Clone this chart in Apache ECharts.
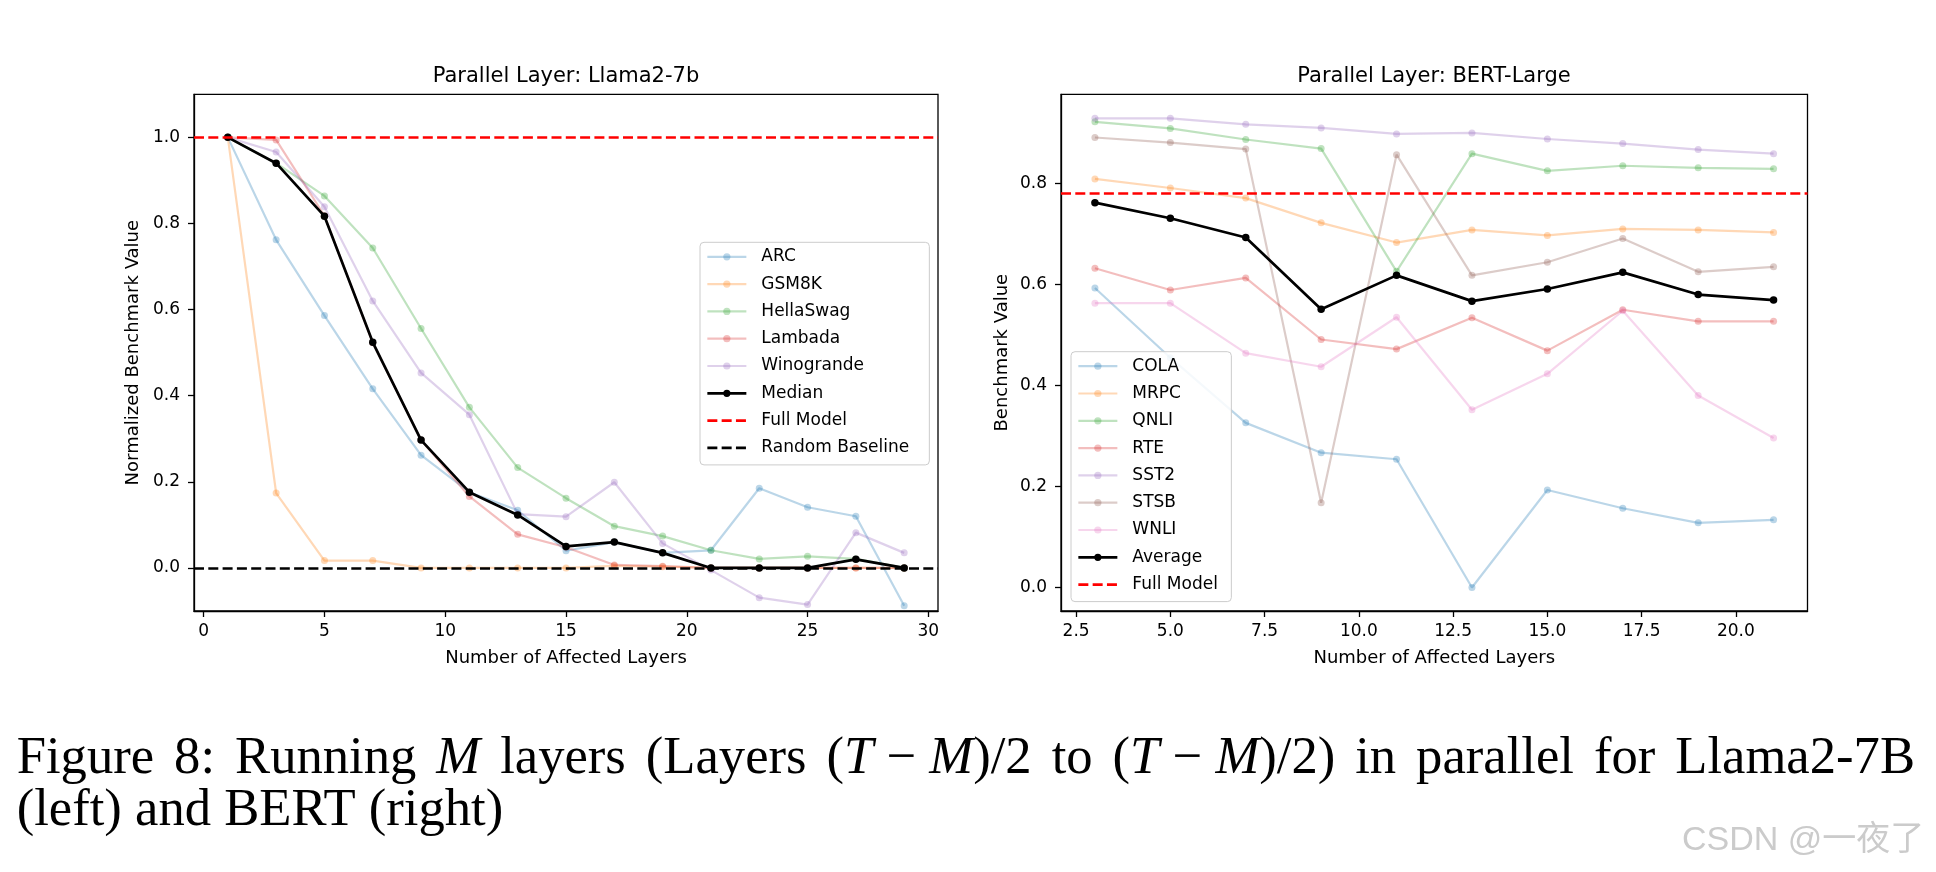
<!DOCTYPE html>
<html>
<head>
<meta charset="utf-8">
<script src="https://cdn.jsdelivr.net/npm/echarts@6/dist/echarts.min.js"></script>
<style>
html,body{margin:0;padding:0;background:#fff;}
#chart{width:1936px;height:872px;}
</style>
</head>
<body>
<div id="chart"></div>
<script>
// ---------- Data: left panel (Llama2-7b) ----------
const LEFT_X = [1, 3, 5, 7, 9, 11, 13, 15, 17, 19, 21, 23, 25, 27, 29];
const ARC = [1.0, 0.762, 0.586, 0.416, 0.262, 0.176, 0.134, 0.040, 0.060, 0.035, 0.041, 0.185, 0.141, 0.120, -0.088];
const GSM8K = [1.0, 0.174, 0.017, 0.017, 0.0, 0.0, 0.0, 0.0, 0.005, 0.003, 0.0, 0.0, 0.0, 0.0, 0.0];
const HELLASWAG = [1.0, 0.940, 0.864, 0.743, 0.556, 0.373, 0.233, 0.162, 0.097, 0.074, 0.041, 0.021, 0.027, 0.021, 0.0];
const LAMBADA = [1.0, 0.994, 0.818, 0.523, 0.297, 0.166, 0.078, 0.048, 0.007, 0.004, 0.0, 0.0, 0.0, 0.0, 0.0];
const WINOGRANDE = [1.0, 0.966, 0.839, 0.620, 0.453, 0.356, 0.125, 0.119, 0.199, 0.057, -0.005, -0.069, -0.085, 0.082, 0.035];
const MEDIAN = [1.0, 0.940, 0.817, 0.524, 0.297, 0.176, 0.123, 0.050, 0.060, 0.035, 0.0, 0.0, 0.0, 0.020, 0.0];
const LEFT_FULL_MODEL = 1.0;
const LEFT_RANDOM_BASELINE = 0.0;
const LEFT_X_TICKS = [0, 5, 10, 15, 20, 25, 30];
const LEFT_Y_TICKS = [0.0, 0.2, 0.4, 0.6, 0.8, 1.0];

// ---------- Data: right panel (BERT-Large) ----------
const RIGHT_X = [3, 5, 7, 9, 11, 13, 15, 17, 19, 21];
const COLA = [0.593, 0.455, 0.326, 0.267, 0.254, 0.0, 0.193, 0.157, 0.128, 0.134];
const MRPC = [0.809, 0.791, 0.771, 0.722, 0.683, 0.708, 0.697, 0.710, 0.708, 0.703];
const QNLI = [0.922, 0.909, 0.887, 0.869, 0.626, 0.859, 0.825, 0.835, 0.831, 0.829];
const RTE = [0.632, 0.589, 0.613, 0.491, 0.472, 0.534, 0.469, 0.550, 0.527, 0.527];
const SST2 = [0.929, 0.929, 0.917, 0.910, 0.898, 0.900, 0.888, 0.879, 0.867, 0.859];
const STSB = [0.891, 0.881, 0.868, 0.168, 0.857, 0.618, 0.644, 0.691, 0.625, 0.635];
const WNLI = [0.563, 0.563, 0.464, 0.437, 0.535, 0.352, 0.423, 0.548, 0.380, 0.296];
const AVERAGE = [0.762, 0.731, 0.693, 0.551, 0.618, 0.567, 0.591, 0.624, 0.580, 0.569];
const RIGHT_FULL_MODEL = 0.777;
const RIGHT_X_TICKS = [2.5, 5.0, 7.5, 10.0, 12.5, 15.0, 17.5, 20.0];
const RIGHT_Y_TICKS = [0.0, 0.2, 0.4, 0.6, 0.8];

// ---------- Texts ----------
const TITLE_LEFT = 'Parallel Layer: Llama2-7b';
const TITLE_RIGHT = 'Parallel Layer: BERT-Large';
const XLABEL = 'Number of Affected Layers';
const YLABEL_LEFT = 'Normalized Benchmark Value';
const YLABEL_RIGHT = 'Benchmark Value';
const WATERMARK = 'CSDN @一夜了';
// caption line 1: [style, text] pieces ('i' = italic math letter, 'm' = math operator with fixed spacing)
const CAP1_PARTS = [['n', 'Figure 8: Running '], ['i', 'M'], ['n', ' layers (Layers ('], ['i', 'T'], ['m', ' − '], ['i', 'M'],
  ['n', ')/2 to ('], ['i', 'T'], ['m', ' − '], ['i', 'M'], ['n', ')/2) in parallel for Llama2-7B']];
const CAP2 = '(left) and BERT (right)';

// ---------- Styling ----------
const SANS = '"DejaVu Sans", sans-serif';
const SERIF = '"Liberation Serif", "DejaVu Serif", serif';
const C = ['#1f77b4', '#ff7f0e', '#2ca02c', '#d62728', '#9467bd', '#8c564b', '#e377c2'];
const DASH = [10, 4.3];

function pairs(xs, ys) { return xs.map((x, i) => [x, ys[i]]); }

function lightSeries(name, color, xs, ys, gi) {
  return {
    type: 'line', name: name, xAxisIndex: gi, yAxisIndex: gi,
    data: pairs(xs, ys), symbol: 'circle', symbolSize: 7, showSymbol: true,
    lineStyle: { color: color, width: 2.2, opacity: 0.3 },
    itemStyle: { color: color, opacity: 0.3 },
    emphasis: { disabled: true }, z: 2, animation: false
  };
}
function boldSeries(name, xs, ys, gi) {
  return {
    type: 'line', name: name, xAxisIndex: gi, yAxisIndex: gi,
    data: pairs(xs, ys), symbol: 'circle', symbolSize: 7.5,
    lineStyle: { color: '#000', width: 2.7 },
    itemStyle: { color: '#000' },
    emphasis: { disabled: true }, z: 4, animation: false
  };
}
function refSeries(name, color, value, gi) {
  return {
    type: 'line', name: name, xAxisIndex: gi, yAxisIndex: gi, data: [],
    symbol: 'none', lineStyle: { color: color, width: 2.6, type: DASH },
    itemStyle: { color: color }, z: 5, animation: false,
    markLine: {
      silent: true, symbol: 'none', label: { show: false }, animation: false,
      lineStyle: { color: color, width: 2.6, type: DASH, opacity: 1 },
      emphasis: { disabled: true },
      data: [{ yAxis: value }]
    }
  };
}

function xAxisCfg(gi, min, max, ticks, fmt) {
  return {
    type: 'value', gridIndex: gi, min: min, max: max,
    splitLine: { show: false },
    axisLine: { show: true, onZero: false, lineStyle: { color: '#000', width: 1.3 } },
    axisTick: { show: true, customValues: ticks, length: 6, lineStyle: { color: '#000', width: 1.3 } },
    axisLabel: { customValues: ticks, formatter: fmt, color: '#000', fontSize: 17, fontFamily: SANS, margin: 12 },
    name: XLABEL, nameLocation: 'middle', nameGap: 38,
    nameTextStyle: { color: '#000', fontSize: 18, fontFamily: SANS }
  };
}
function yAxisCfg(gi, min, max, ticks, name, gap) {
  return {
    type: 'value', gridIndex: gi, min: min, max: max,
    splitLine: { show: false },
    axisLine: { show: true, onZero: false, lineStyle: { color: '#000', width: 1.3 } },
    axisTick: { show: true, customValues: ticks, length: 6, lineStyle: { color: '#000', width: 1.3 } },
    axisLabel: { customValues: ticks, formatter: v => v.toFixed(1), color: '#000', fontSize: 17, fontFamily: SANS, margin: 14 },
    name: name, nameLocation: 'middle', nameGap: gap,
    nameTextStyle: { color: '#000', fontSize: 18, fontFamily: SANS }
  };
}
// reference-line entries show only the dashed line (no marker)
const REF_NAMES = ['Full Model', 'Random Baseline'];
function legendCfg(left, top, names, textWidth) {
  return {
    orient: 'vertical', left: left, top: top, padding: [4.5, 8, 7, 6],
    itemWidth: 39, itemHeight: 9, itemGap: 7.3,
    backgroundColor: 'rgba(255,255,255,0.85)', borderColor: '#cccccc', borderWidth: 1, borderRadius: 4,
    selectedMode: false,
    lineStyle: { width: 'inherit' },
    textStyle: { fontSize: 17, fontFamily: SANS, color: '#000', lineHeight: 20, width: textWidth, padding: [0, 0, 0, 10] },
    data: names.map(n => REF_NAMES.indexOf(n) >= 0 ? { name: n, itemStyle: { opacity: 0 } } : n)
  };
}

// ---------- Caption layout ----------
const mctx = document.createElement('canvas').getContext('2d');
function tw(text, size, italic) {
  mctx.font = (italic ? 'italic ' : '') + size + 'px ' + SERIF;
  return mctx.measureText(text).width;
}
const CAP_LEFT = 16.7, CAP1_RIGHT = 1915, CAP2_RIGHT = 481.7;
const size2 = 50 * (CAP2_RIGHT - CAP_LEFT) / tw(CAP2, 50, false);
const size1 = 50 * (CAP1_RIGHT - CAP_LEFT) / CAP1_PARTS.reduce((a, p) => a + tw(p[1], 50, p[0] === 'i'), 0);
const capSize = 0.5 * (size1 + size2);
const capTokens = [];
CAP1_PARTS.forEach(p => {
  if (p[0] !== 'n') { capTokens.push(p); return; }
  p[1].split(' ').forEach((s, k) => {
    if (k > 0) capTokens.push(['s', ' ']);
    if (s.length) capTokens.push(['n', s]);
  });
});
let wordsW = 0, nSpaces = 0;
capTokens.forEach(t => { if (t[0] === 's') nSpaces++; else wordsW += tw(t[1], capSize, t[0] === 'i'); });
const spaceW = (CAP1_RIGHT - CAP_LEFT - wordsW) / nSpaces;
const cap1Rich = capTokens.map(t => '{' + t[0] + '|' + t[1] + '}').join('');

const chart = echarts.init(document.getElementById('chart'), null, { renderer: 'canvas' });
chart.setOption({
  backgroundColor: '#ffffff',
  animation: false,
  grid: [
    { left: 194, top: 94.3, width: 744, height: 516.7, show: true, borderColor: '#000', borderWidth: 1.3, backgroundColor: 'transparent', containLabel: false },
    { left: 1061, top: 94.3, width: 746.5, height: 516.7, show: true, borderColor: '#000', borderWidth: 1.3, backgroundColor: 'transparent', containLabel: false }
  ],
  xAxis: [
    xAxisCfg(0, -0.4, 30.4, LEFT_X_TICKS, v => String(v)),
    xAxisCfg(1, 2.1, 21.9, RIGHT_X_TICKS, v => v.toFixed(1))
  ],
  yAxis: [
    yAxisCfg(0, -0.1, 1.1, LEFT_Y_TICKS, YLABEL_LEFT, 52),
    yAxisCfg(1, -0.0465, 0.9765, RIGHT_Y_TICKS, YLABEL_RIGHT, 50)
  ],
  legend: [
    legendCfg(700, 242.3, ['ARC', 'GSM8K', 'HellaSwag', 'Lambada', 'Winogrande', 'Median', 'Full Model', 'Random Baseline'], 160),
    legendCfg(1071, 351.7, ['COLA', 'MRPC', 'QNLI', 'RTE', 'SST2', 'STSB', 'WNLI', 'Average', 'Full Model'], 91)
  ],
  series: [
    lightSeries('ARC', C[0], LEFT_X, ARC, 0),
    lightSeries('GSM8K', C[1], LEFT_X, GSM8K, 0),
    lightSeries('HellaSwag', C[2], LEFT_X, HELLASWAG, 0),
    lightSeries('Lambada', C[3], LEFT_X, LAMBADA, 0),
    lightSeries('Winogrande', C[4], LEFT_X, WINOGRANDE, 0),
    boldSeries('Median', LEFT_X, MEDIAN, 0),
    refSeries('Full Model', '#ff0000', LEFT_FULL_MODEL, 0),
    refSeries('Random Baseline', '#000000', LEFT_RANDOM_BASELINE, 0),

    lightSeries('COLA', C[0], RIGHT_X, COLA, 1),
    lightSeries('MRPC', C[1], RIGHT_X, MRPC, 1),
    lightSeries('QNLI', C[2], RIGHT_X, QNLI, 1),
    lightSeries('RTE', C[3], RIGHT_X, RTE, 1),
    lightSeries('SST2', C[4], RIGHT_X, SST2, 1),
    lightSeries('STSB', C[5], RIGHT_X, STSB, 1),
    lightSeries('WNLI', C[6], RIGHT_X, WNLI, 1),
    boldSeries('Average', RIGHT_X, AVERAGE, 1),
    refSeries('Full Model', '#ff0000', RIGHT_FULL_MODEL, 1)
  ],
  graphic: [
    { type: 'text', x: 566, y: 76.5, silent: true,
      style: { text: TITLE_LEFT, align: 'center', verticalAlign: 'middle', fontSize: 21, fontFamily: SANS, fill: '#000' } },
    { type: 'text', x: 1434, y: 76.5, silent: true,
      style: { text: TITLE_RIGHT, align: 'center', verticalAlign: 'middle', fontSize: 21, fontFamily: SANS, fill: '#000' } },
    { type: 'text', x: CAP_LEFT, y: 775 - 0.305 * capSize, silent: true,
      style: { text: cap1Rich, align: 'left', verticalAlign: 'middle', fontSize: capSize, fontFamily: SERIF, fill: '#000',
        rich: {
          n: { fontSize: capSize, fontFamily: SERIF, fill: '#000' },
          m: { fontSize: capSize, fontFamily: SERIF, fill: '#000' },
          i: { fontSize: capSize, fontFamily: SERIF, fontStyle: 'italic', fill: '#000' },
          s: { fontSize: capSize, fontFamily: SERIF, width: spaceW, fill: '#000' }
        } } },
    { type: 'text', x: CAP_LEFT, y: 827 - 0.305 * capSize, silent: true,
      style: { text: CAP2, align: 'left', verticalAlign: 'middle', fontSize: capSize, fontFamily: SERIF, fill: '#000' } },
    { type: 'text', x: 1682, y: 841, silent: true,
      style: { text: WATERMARK, align: 'left', verticalAlign: 'middle', fontSize: 34, fontFamily: '"Liberation Sans", "Noto Sans CJK SC", sans-serif', fill: '#cbcbcb' } }
  ]
});
</script>
</body>
</html>
